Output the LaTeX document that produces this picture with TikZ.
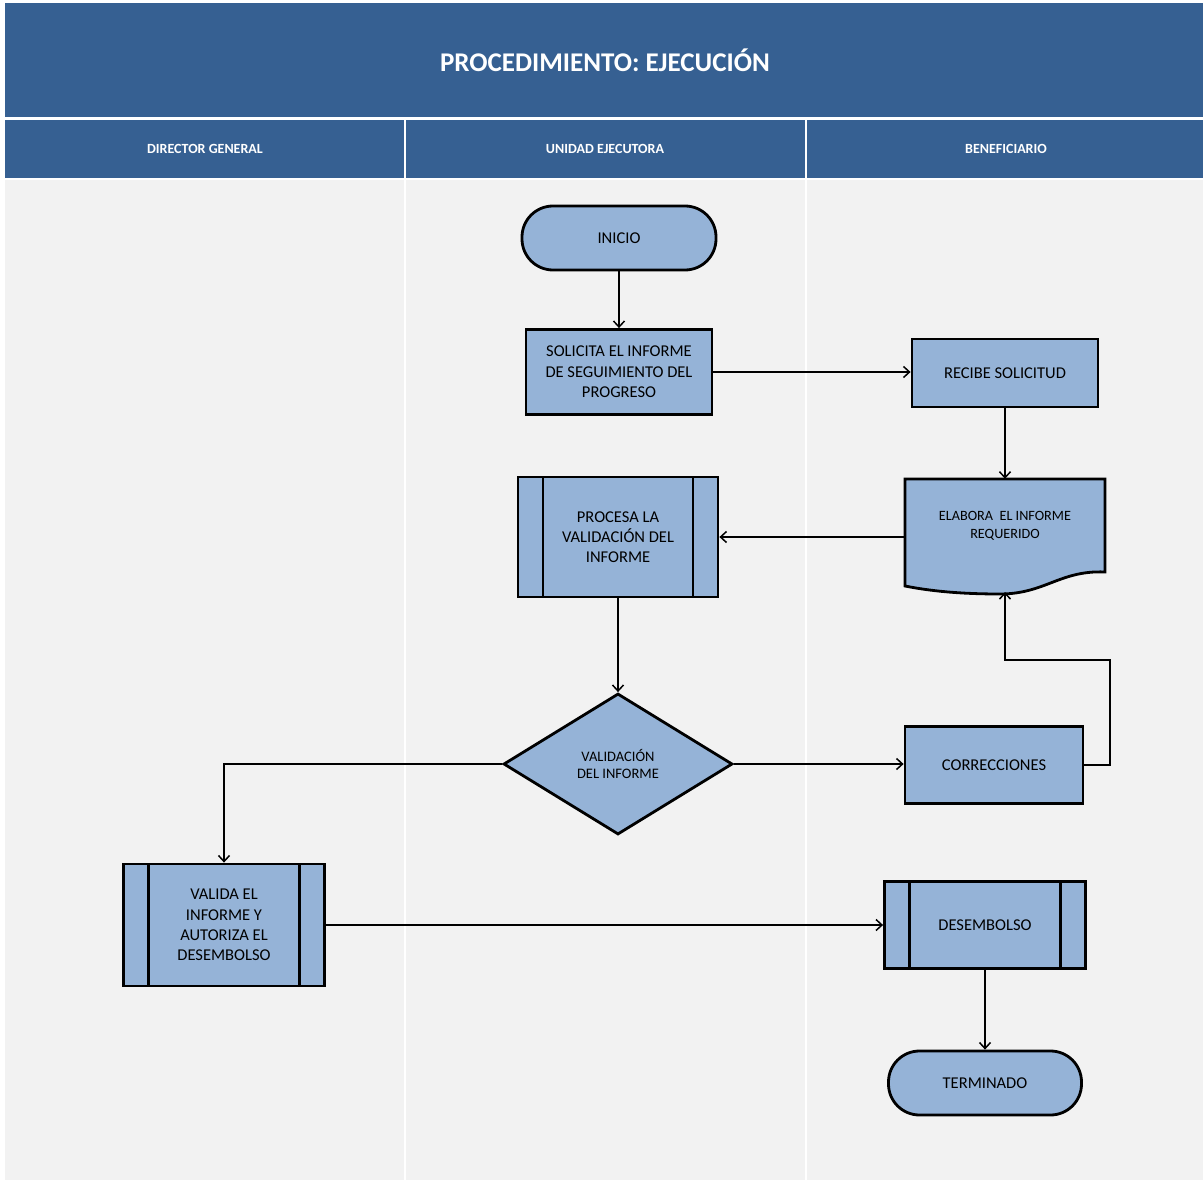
\documentclass[tikz,border=0pt]{standalone}
\usepackage{fontspec}
\setmainfont{Carlito}
\usetikzlibrary{shapes.geometric, arrows.meta, positioning}
\definecolor{azulCabecera}{HTML}{366092}
\definecolor{azulCaja}{HTML}{95B3D7}
\definecolor{grisFondo}{HTML}{F2F2F2}
\tikzset {
    x=1pt, y=-1pt,
    >={Straight Barb[length=6pt,width=11pt]},
    flecha/.style={->, line width=1.5pt},
    carril/.style={fill=grisFondo, draw=none},
    cabecera/.style={fill=azulCabecera, draw=none},
    titulo/.style={text=white, font=\fontsize{27}{30}\selectfont\bfseries},
    encabezado/.style={text=white, font=\fontsize{14}{16}\selectfont\bfseries},
    proceso/.style={draw, line width=2.8pt, fill=azulCaja, align=center,
        inner sep=0pt, font=\fontsize{16.5}{20.3}\selectfont},
    terminal/.style={proceso, rounded corners=31pt},
    subproceso/.style={proceso, path picture={
        \draw[line width=2.8pt]
            ([xshift=25pt]path picture bounding box.north west) -- ([xshift=25pt]path picture bounding box.south west)
            ([xshift=-25pt]path picture bounding box.north east) -- ([xshift=-25pt]path picture bounding box.south east);
    }},
    decision/.style={proceso, diamond, shape aspect=1.6, font=\fontsize{14.5}{17}\selectfont},
    documento/.style={align=center, inner sep=0pt, font=\fontsize{14.2}{18}\selectfont}
}

\begin{document}
\begin{tikzpicture}
    \useasboundingbox (0,0) rectangle (1203,1180);
    \fill[white] (0,0) rectangle (1203,1180);

    % cabecera y carriles
    \fill[cabecera] (5,3) rectangle (1203,117);
    \node[titulo] (titulo) at (605,60) {PROCEDIMIENTO: EJECUCIÓN};

    \fill[cabecera] (5,120) rectangle (404,178);
    \fill[cabecera] (406,120) rectangle (805,178);
    \fill[cabecera] (807,120) rectangle (1203,178);
    \node[encabezado] (director) at (205,149) {DIRECTOR GENERAL};
    \node[encabezado] (unidad) at (605,149) {UNIDAD EJECUTORA};
    \node[encabezado] (beneficiario) at (1006,149) {BENEFICIARIO};

    \fill[carril] (5,180) rectangle (404,1180);
    \fill[carril] (406,180) rectangle (805,1180);
    \fill[carril] (807,180) rectangle (1203,1180);

    % nodos
    \node[terminal, minimum width=194pt, minimum height=64pt] (inicio) at (619,238) {INICIO};
    \node[proceso, minimum width=186pt, minimum height=85pt] (solicita) at (619,372)
        {SOLICITA EL INFORME\\DE SEGUIMIENTO DEL\\PROGRESO};
    \node[proceso, minimum width=186pt, minimum height=68pt] (recibe) at (1005,373) {RECIBE SOLICITUD};
    \node[subproceso, minimum width=200pt, minimum height=120pt] (procesa) at (618,537)
        {PROCESA LA\\VALIDACIÓN DEL\\INFORME};

    \draw[line width=2.8pt, fill=azulCaja] (905,479) -- (1105,479) -- (1105,572)
        .. controls (1060,570) and (1045,594) .. (1000,594)
        .. controls (960,594) and (930,591) .. (905,586) -- cycle;
    \node[documento, minimum width=200pt, minimum height=94pt] (elabora) at (1005,526)
        {ELABORA\ \ EL INFORME\\REQUERIDO};
    \coordinate (elaboraBase) at (1005,592);

    \node[decision, minimum width=229pt, minimum height=141pt] (validacion) at (618,764)
        {VALIDACIÓN\\DEL INFORME};
    \node[proceso, minimum width=178pt, minimum height=77pt] (correcciones) at (994,765) {CORRECCIONES};
    \node[subproceso, minimum width=201pt, minimum height=122pt] (valida) at (224,925)
        {VALIDA EL\\INFORME Y\\AUTORIZA EL\\DESEMBOLSO};
    \node[subproceso, minimum width=201pt, minimum height=87pt] (desembolso) at (985,925) {DESEMBOLSO};
    \node[terminal, minimum width=193pt, minimum height=64pt] (terminado) at (985,1083) {TERMINADO};

    % conectores
    \draw[flecha] (inicio) -- (solicita);
    \draw[flecha] (solicita.east) -- (solicita.east -| recibe.west);
    \draw[flecha] (recibe) -- (elabora.north);
    \draw[flecha] (procesa.east -| elabora.west) -- (procesa.east);
    \draw[flecha] (procesa) -- (validacion);
    \draw[flecha] (validacion.west) -| (valida.north);
    \draw[flecha] (validacion.east) -- (validacion.east -| correcciones.west);
    \draw[flecha] (correcciones.east) -| (1110,660) -| (elaboraBase);
    \draw[flecha] (valida) -- (desembolso);
    \draw[flecha] (desembolso) -- (terminado);
\end{tikzpicture}
\end{document}
